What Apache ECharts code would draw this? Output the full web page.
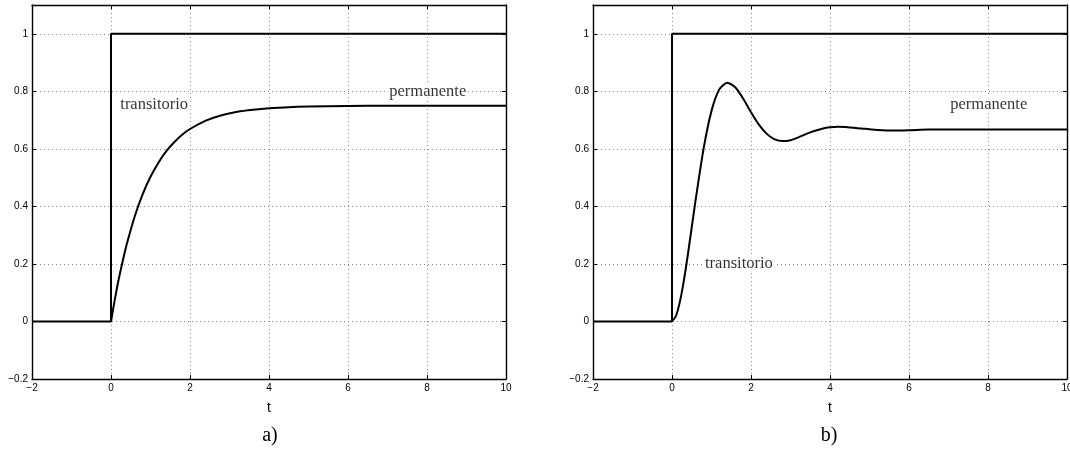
<!DOCTYPE html>
<html>
<head>
<meta charset="utf-8">
<script src="https://cdn.jsdelivr.net/npm/echarts@6/dist/echarts.min.js"></script>
<style>html,body{margin:0;padding:0;background:#fff;overflow:hidden}#c{width:1070px;height:462px}</style>
</head>
<body>
<div id="c"></div>
<script>
// ---- data ----
const xTickValues = [-2, 0, 2, 4, 6, 8, 10];
const yTickValues = [-0.2, 0, 0.2, 0.4, 0.6, 0.8, 1.0];
const yTop = 1.1;
const xAxisName = 't';
const panelLabels = ['a)', 'b)'];

// unit step input (both panels)
const stepT = [-2, 0, 0, 10];
const stepY = [0, 0, 1, 1];

// panel a: first-order response
const respAT = [0, 0.1, 0.2, 0.3, 0.4, 0.6, 0.8, 1.0, 1.2, 1.4, 1.6, 1.8, 2.0, 2.4, 2.8, 3.2, 3.6, 4.0, 4.5, 5, 6, 7, 8, 10];
const respAY = [0, 0.079, 0.150, 0.212, 0.269, 0.365, 0.442, 0.503, 0.552, 0.592, 0.623, 0.649, 0.669, 0.698, 0.717, 0.729, 0.736, 0.741, 0.745, 0.747, 0.749, 0.7496, 0.7499, 0.75];

// panel b: underdamped second-order response
const respBT = [0, 0.1, 0.2, 0.3, 0.4, 0.6, 0.8, 1.0, 1.2, 1.4, 1.6, 1.8, 2.0, 2.2, 2.4, 2.6, 2.8, 3.0, 3.2, 3.4, 3.6, 3.8, 4.0, 4.2, 4.4, 4.6, 4.8, 5.0, 5.5, 6.0, 6.5, 7.0, 7.5, 8, 9, 10];
const respBY = [0, 0.019, 0.069, 0.142, 0.231, 0.424, 0.601, 0.732, 0.807, 0.830, 0.814, 0.775, 0.727, 0.684, 0.652, 0.633, 0.627, 0.630, 0.640, 0.652, 0.662, 0.670, 0.675, 0.677, 0.676, 0.673, 0.671, 0.668, 0.664, 0.665, 0.667, 0.667, 0.667, 0.667, 0.667, 0.667];

// annotations
const notesA = [{t: 0.21, y: 0.752, text: 'transitorio'}, {t: 7.02, y: 0.80, text: 'permanente'}];
const notesB = [{t: 0.81, y: 0.20, text: 'transitorio'}, {t: 7.02, y: 0.752, text: 'permanente'}];

// ---- chart ----
const zip = (a, b) => a.map((v, i) => [v, b[i]]);
const xMin = xTickValues[0], xMax = xTickValues[xTickValues.length - 1];
const xInt = xTickValues[1] - xTickValues[0];
const yMin = yTickValues[0];
const yInt = +(yTickValues[1] - yTickValues[0]).toFixed(3);
const sans = '"Liberation Sans", Arial, Helvetica, sans-serif';
const serif = '"Liberation Serif", "Times New Roman", serif';
const tickFont = {fontFamily: sans, fontSize: 10, color: '#000'};
const fmt = v => {
  const r = Math.round(v * 10) / 10;
  return String(r).replace('-', '\u2212');
};
const grids = [
  {left: 32, top: 5, width: 474, height: 374, containLabel: false, outerBoundsMode: 'none'},
  {left: 593, top: 5, width: 474, height: 374, containLabel: false, outerBoundsMode: 'none'}
];
const xAxes = [], yAxes = [];
const axisLine = {show: true, onZero: false, lineStyle: {color: '#000', width: 1.4}};
const tick = {show: true, inside: true, length: 4, lineStyle: {color: '#000', width: 1}};
const split = {show: true, lineStyle: {color: '#8a8a8a', width: 1, type: [1, 3]}};
for (let g = 0; g < 2; g++) {
  xAxes.push({type: 'value', gridIndex: g, min: xMin, max: xMax, interval: xInt, position: 'bottom',
    axisLine, axisTick: tick, splitLine: split,
    axisLabel: Object.assign({margin: 4, formatter: v => String(v).replace('-', '\u2212')}, tickFont),
    name: xAxisName, nameLocation: 'middle', nameGap: 22,
    nameTextStyle: {fontFamily: sans, fontSize: 14, color: '#000'}});
  xAxes.push({type: 'value', gridIndex: g, min: xMin, max: xMax, interval: xInt, position: 'top',
    axisLine, axisTick: tick, splitLine: {show: false}, axisLabel: {show: false}});
  yAxes.push({type: 'value', gridIndex: g, min: yMin, max: yTop, interval: yInt, position: 'left',
    axisLine, axisTick: tick, splitLine: split,
    axisLabel: Object.assign({margin: 4, showMaxLabel: false, formatter: fmt}, tickFont)});
  yAxes.push({type: 'value', gridIndex: g, min: yMin, max: yTop, interval: yInt, position: 'right',
    axisLine, axisTick: tick, splitLine: {show: false}, axisLabel: {show: false}});
}
const lineS = (g, data) => ({type: 'line', xAxisIndex: 2 * g, yAxisIndex: 2 * g, data, showSymbol: false,
  symbol: 'none', smooth: false, lineStyle: {color: '#000', width: 2}, silent: true, animation: false, z: 3});
const curveS = (g, data) => Object.assign(lineS(g, data), {smooth: 0.25});
const noteS = (g, notes) => ({type: 'scatter', xAxisIndex: 2 * g, yAxisIndex: 2 * g, symbolSize: 0, z: 5,
  animation: false, silent: true,
  data: notes.map(n => ({value: [n.t, n.y], name: n.text})),
  label: {show: true, position: 'right', distance: 0, formatter: p => p.name, color: '#000',
    fontFamily: serif, fontSize: 16.5, backgroundColor: '#fff', padding: [0, 1]}});

const chart = echarts.init(document.getElementById('c'), null, {renderer: 'canvas', width: 1070, height: 462});
chart.setOption({
  animation: false,
  backgroundColor: '#fff',
  grid: grids,
  xAxis: xAxes,
  yAxis: yAxes,
  series: [
    lineS(0, zip(stepT, stepY)), curveS(0, zip(respAT, respAY)), noteS(0, notesA),
    lineS(1, zip(stepT, stepY)), curveS(1, zip(respBT, respBY)), noteS(1, notesB)
  ],
  graphic: [
    {type: 'text', x: 270, y: 436, style: {text: panelLabels[0], textAlign: 'center', textVerticalAlign: 'middle',
      font: '20px ' + serif, fill: '#000'}},
    {type: 'text', x: 829, y: 436, style: {text: panelLabels[1], textAlign: 'center', textVerticalAlign: 'middle',
      font: '20px ' + serif, fill: '#000'}}
  ]
});
</script>
</body>
</html>
